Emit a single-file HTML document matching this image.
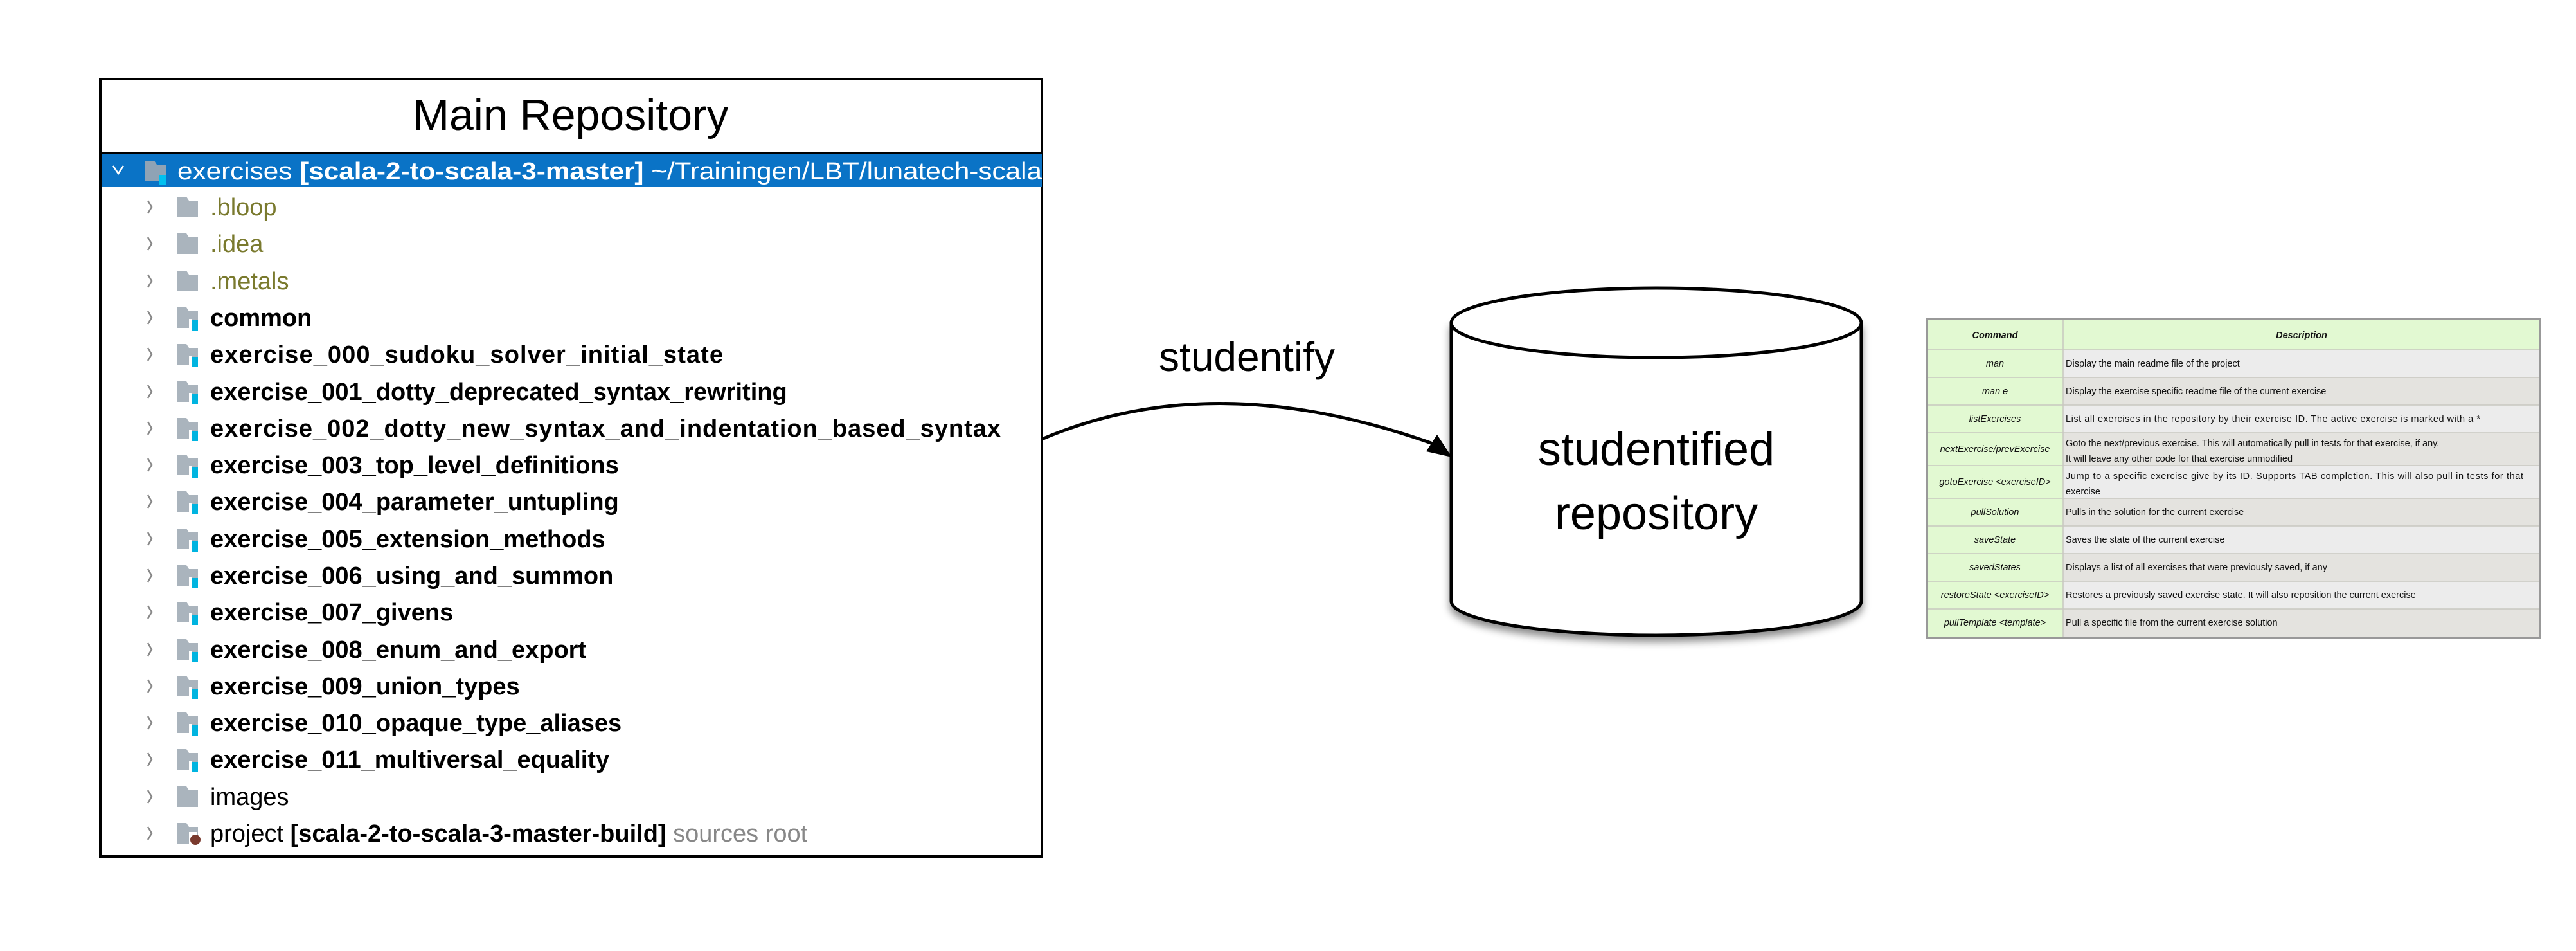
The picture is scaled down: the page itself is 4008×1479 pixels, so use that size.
<!DOCTYPE html>
<html><head><meta charset="utf-8"><style>
html,body{margin:0;padding:0;background:#fff;}
svg{display:block;}
</style></head><body>
<svg width="4008" height="1479" viewBox="0 0 4008 1479" xmlns="http://www.w3.org/2000/svg" font-family="Liberation Sans, sans-serif">
<defs>
<clipPath id="bx"><rect x="156" y="123" width="1465" height="1209"/></clipPath>
<filter id="sh" x="-10%" y="-10%" width="120%" height="130%"><feDropShadow dx="0" dy="8" stdDeviation="6" flood-color="#000" flood-opacity="0.45"/></filter>
<g id="fold"><path d="M0 0 h14 l4 6 h14 v26 h-32 z" fill="#aab4bd"/></g>
<g id="foldc"><path d="M0 0 h14 l4 6 h14 v26 h-32 z" fill="#aab4bd"/><rect x="22" y="20" width="10" height="16" fill="#00b4e0"/><rect x="18" y="18" width="4" height="14" fill="#fff"/></g>
<path id="chev" d="M0 -10 L6 0 L0 10" fill="none" stroke="#888" stroke-width="2.5"/>
</defs>
<rect x="0" y="0" width="4008" height="1479" fill="#fff"/>

<rect x="156" y="123" width="1465" height="1209" fill="#fff" stroke="#000" stroke-width="4"/>
<text x="888" y="202" font-size="68" text-anchor="middle" fill="#000">Main Repository</text>
<line x1="156" y1="238" x2="1621" y2="238" stroke="#000" stroke-width="4"/>
<g clip-path="url(#bx)">
<rect x="158" y="240" width="1463" height="51" fill="#0a73c6"/>
<path d="M176 258 L184 270 L192 258" fill="none" stroke="#fff" stroke-width="2.5"/>
<path d="M226 250 h14 l4 6 h14 v26 h-32 z" fill="#8fa3b5"/><rect x="248" y="272" width="10" height="16" fill="#00c0f0"/>
<text x="276" y="279" font-size="38" fill="#fff" textLength="1345" lengthAdjust="spacingAndGlyphs">exercises <tspan font-weight="bold">[scala-2-to-scala-3-master]</tspan>  ~/Trainingen/LBT/lunatech-scala</text>
</g>

<g font-size="38">
<use href="#chev" x="230" y="322"/><use href="#fold" x="276" y="306"/><text x="327" y="335" fill="#7a7a2e">.bloop</text>
<use href="#chev" x="230" y="379"/><use href="#fold" x="276" y="363"/><text x="327" y="392" fill="#7a7a2e">.idea</text>
<use href="#chev" x="230" y="437"/><use href="#fold" x="276" y="421"/><text x="327" y="450" fill="#7a7a2e">.metals</text>
<g font-weight="bold" fill="#000">
<use href="#chev" x="230" y="494"/><use href="#foldc" x="276" y="478"/><text x="327" y="507">common</text>
<use href="#chev" x="230" y="551"/><use href="#foldc" x="276" y="535"/><text x="327" y="564" textLength="798">exercise_000_sudoku_solver_initial_state</text>
<use href="#chev" x="230" y="609"/><use href="#foldc" x="276" y="593"/><text x="327" y="622">exercise_001_dotty_deprecated_syntax_rewriting</text>
<use href="#chev" x="230" y="666"/><use href="#foldc" x="276" y="650"/><text x="327" y="679" textLength="1230">exercise_002_dotty_new_syntax_and_indentation_based_syntax</text>
<use href="#chev" x="230" y="723"/><use href="#foldc" x="276" y="707"/><text x="327" y="736">exercise_003_top_level_definitions</text>
<use href="#chev" x="230" y="780"/><use href="#foldc" x="276" y="764"/><text x="327" y="793">exercise_004_parameter_untupling</text>
<use href="#chev" x="230" y="838"/><use href="#foldc" x="276" y="822"/><text x="327" y="851">exercise_005_extension_methods</text>
<use href="#chev" x="230" y="895"/><use href="#foldc" x="276" y="879"/><text x="327" y="908">exercise_006_using_and_summon</text>
<use href="#chev" x="230" y="952"/><use href="#foldc" x="276" y="936"/><text x="327" y="965">exercise_007_givens</text>
<use href="#chev" x="230" y="1010"/><use href="#foldc" x="276" y="994"/><text x="327" y="1023">exercise_008_enum_and_export</text>
<use href="#chev" x="230" y="1067"/><use href="#foldc" x="276" y="1051"/><text x="327" y="1080">exercise_009_union_types</text>
<use href="#chev" x="230" y="1124"/><use href="#foldc" x="276" y="1108"/><text x="327" y="1137">exercise_010_opaque_type_aliases</text>
<use href="#chev" x="230" y="1181"/><use href="#foldc" x="276" y="1165"/><text x="327" y="1194">exercise_011_multiversal_equality</text>
</g>
<use href="#chev" x="230" y="1239"/><use href="#fold" x="276" y="1223"/><text x="327" y="1252" fill="#000">images</text>
<use href="#chev" x="230" y="1296"/><use href="#fold" x="276" y="1280"/><rect x="294" y="1294" width="12" height="18" fill="#fff"/><circle cx="304" cy="1306" r="8" fill="#7a3a2e"/>
<text x="327" y="1309" fill="#000">project <tspan font-weight="bold">[scala-2-to-scala-3-master-build]</tspan>  <tspan fill="#888">sources root</tspan></text>
</g>

<!-- arrow -->
<path d="M1621 683 C1780 615 1980 600 2235 692" fill="none" stroke="#000" stroke-width="5"/>
<polygon points="2259,711 2219,702 2236,676" fill="#000"/>
<text x="1940" y="577" font-size="64" text-anchor="middle" fill="#000">studentify</text>

<g filter="url(#sh)">
<path d="M2258 502 L2258 935 A319 53 0 0 0 2896 935 L2896 502 Z" fill="#fff" stroke="#000" stroke-width="5"/>
</g>
<ellipse cx="2577" cy="502" rx="319" ry="54" fill="#fff" stroke="#000" stroke-width="5"/>
<text x="2577" y="723" font-size="72" text-anchor="middle" fill="#000">studentified</text>
<text x="2577" y="823" font-size="72" text-anchor="middle" fill="#000">repository</text>

<g font-size="14.5" fill="#111">
<rect x="2998" y="496" width="954" height="496" fill="#e4e3df" stroke="#aaa" stroke-width="2"/>
<rect x="2998" y="496" width="954" height="48" fill="#e2f9d2"/>
<rect x="2998" y="544" width="212" height="448" fill="#e2f9d2"/>
<rect x="3210" y="544" width="742" height="43" fill="#ececec"/>
<rect x="3210" y="630" width="742" height="43" fill="#ececec"/>
<rect x="3210" y="724" width="742" height="51" fill="#ececec"/>
<rect x="3210" y="818" width="742" height="43" fill="#ececec"/>
<rect x="3210" y="904" width="742" height="43" fill="#ececec"/>
<g stroke="#c8c8c0" stroke-width="1.5">
<line x1="3210" y1="496" x2="3210" y2="992"/>
<line x1="2998" y1="544" x2="3952" y2="544"/><line x1="2998" y1="587" x2="3952" y2="587"/>
<line x1="2998" y1="630" x2="3952" y2="630"/><line x1="2998" y1="673" x2="3952" y2="673"/>
<line x1="2998" y1="724" x2="3952" y2="724"/><line x1="2998" y1="775" x2="3952" y2="775"/>
<line x1="2998" y1="818" x2="3952" y2="818"/><line x1="2998" y1="861" x2="3952" y2="861"/>
<line x1="2998" y1="904" x2="3952" y2="904"/><line x1="2998" y1="947" x2="3952" y2="947"/>
</g>
<rect x="2998" y="496" width="954" height="496" fill="none" stroke="#999" stroke-width="2"/>
<text x="3104" y="526" font-weight="bold" font-style="italic" text-anchor="middle">Command</text>
<text x="3581" y="526" font-weight="bold" font-style="italic" text-anchor="middle">Description</text>
<g font-style="italic" text-anchor="middle">
<text x="3104" y="570">man</text>
<text x="3104" y="613">man e</text>
<text x="3104" y="656">listExercises</text>
<text x="3104" y="703">nextExercise/prevExercise</text>
<text x="3104" y="754">gotoExercise &lt;exerciseID&gt;</text>
<text x="3104" y="801">pullSolution</text>
<text x="3104" y="844">saveState</text>
<text x="3104" y="887">savedStates</text>
<text x="3104" y="930">restoreState &lt;exerciseID&gt;</text>
<text x="3104" y="973">pullTemplate &lt;template&gt;</text>
</g>
<text x="3214" y="570">Display the main readme file of the project</text>
<text x="3214" y="613">Display the exercise specific readme file of the current exercise</text>
<text x="3214" y="656" textLength="645">List all exercises in the repository by their exercise ID. The active exercise is marked with a *</text>
<text x="3214" y="694">Goto the next/previous exercise. This will automatically pull in tests for that exercise, if any.</text>
<text x="3214" y="718">It will leave any other code for that exercise unmodified</text>
<text x="3214" y="745" textLength="712">Jump to a specific exercise give by its ID. Supports TAB completion. This will also pull in tests for that</text>
<text x="3214" y="769">exercise</text>
<text x="3214" y="801">Pulls in the solution for the current exercise</text>
<text x="3214" y="844">Saves the state of the current exercise</text>
<text x="3214" y="887">Displays a list of all exercises that were previously saved, if any</text>
<text x="3214" y="930">Restores a previously saved exercise state. It will also reposition the current exercise</text>
<text x="3214" y="973">Pull a specific file from the current exercise solution</text>
</g>
</svg>
</body></html>
